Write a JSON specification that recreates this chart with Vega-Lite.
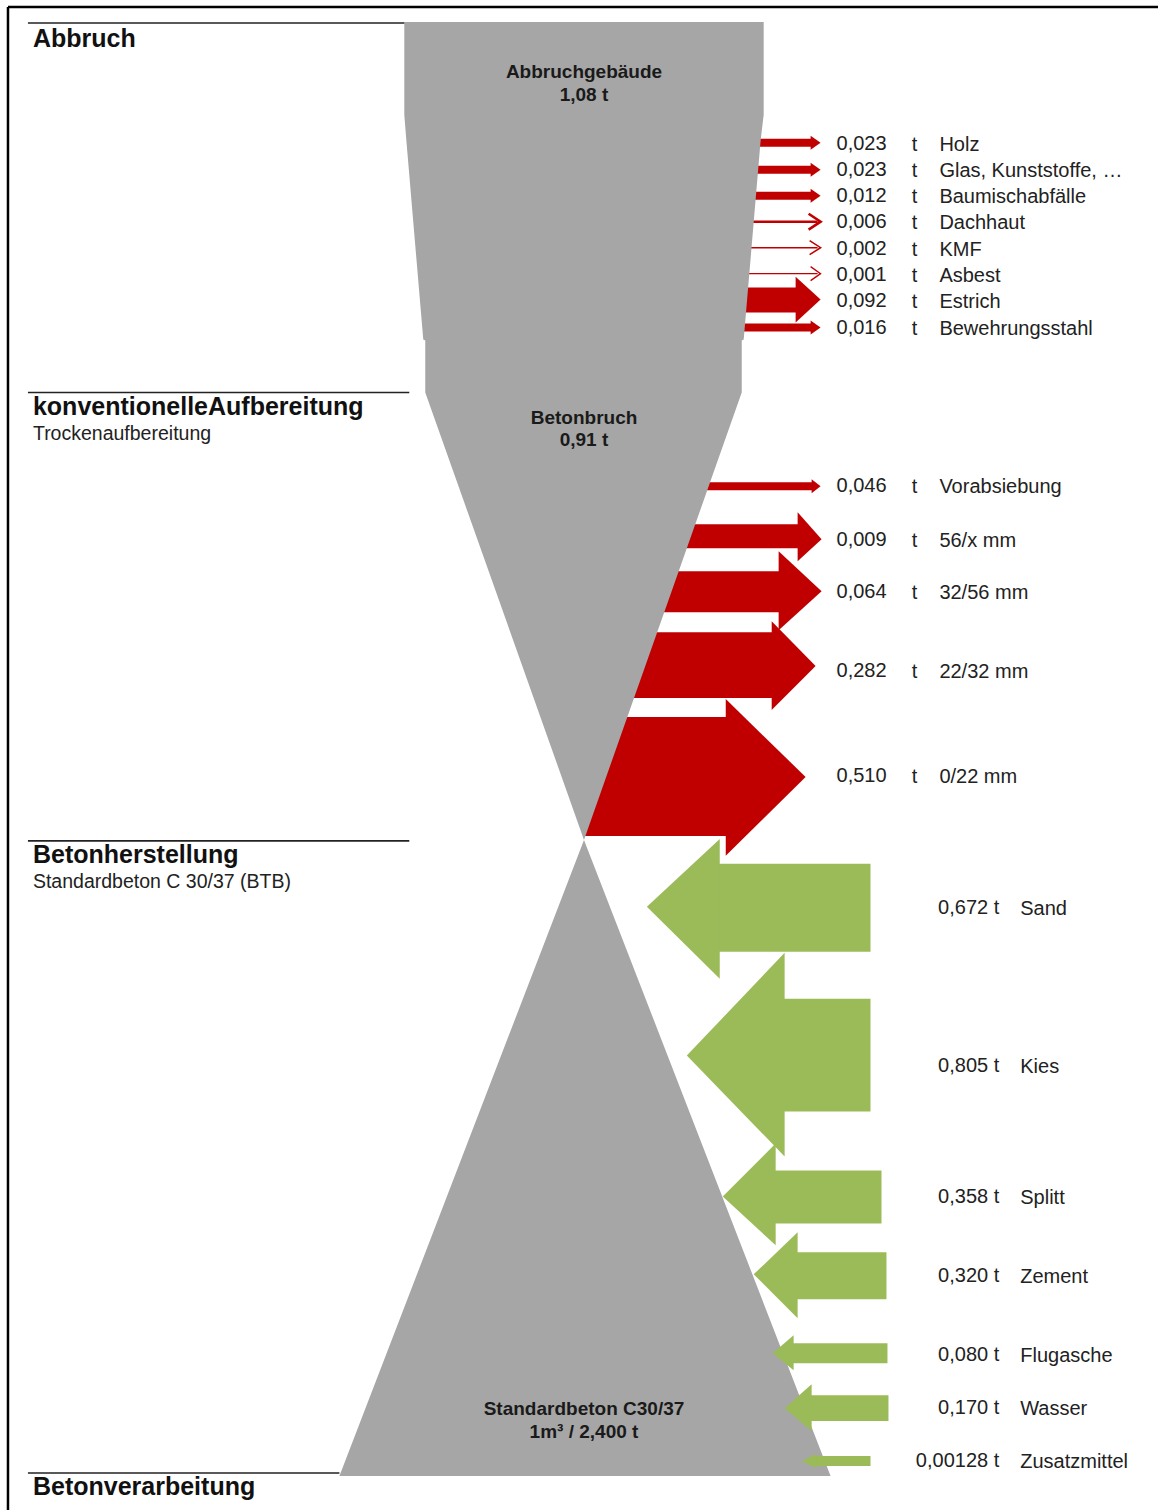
{
  "$schema": "https://vega.github.io/schema/vega-lite/v6.json",
  "width": 1160,
  "height": 1512,
  "autosize": {"type": "fit", "contains": "padding"},
  "padding": 0,
  "background": "white",
  "config": {"view": {"stroke": null}, "text": {"font": "Liberation Sans"}},
  "datasets": {
    "frame": [
      {"x": 8, "x2": 1160, "y": 7, "y2": 7},
      {"x": 8, "x2": 8, "y": 7, "y2": 1512}
    ],
    "sectionLines": [
      {"x": 28, "x2": 405, "y": 23},
      {"x": 28, "x2": 410, "y": 393},
      {"x": 28, "x2": 410, "y": 842},
      {"x": 28, "x2": 340, "y": 1475}
    ],
    "redShafts": [
      {"id": "Holz", "x": 700, "x2": 813, "y": 139, "y2": 147},
      {"id": "Glas", "x": 700, "x2": 813, "y": 166, "y2": 174},
      {"id": "Baumischabfälle", "x": 700, "x2": 813, "y": 192, "y2": 200},
      {"id": "Estrich", "x": 700, "x2": 798, "y": 288, "y2": 313},
      {"id": "Bewehrungsstahl", "x": 700, "x2": 813, "y": 324, "y2": 332},
      {"id": "Vorabsiebung", "x": 650, "x2": 814, "y": 483, "y2": 491},
      {"id": "56/x", "x": 600, "x2": 800, "y": 525, "y2": 549},
      {"id": "32/56", "x": 600, "x2": 781, "y": 572, "y2": 613},
      {"id": "22/32", "x": 590, "x2": 774, "y": 633, "y2": 699},
      {"id": "0/22", "x": 586, "x2": 728, "y": 718, "y2": 837}
    ],
    "redHeads": [
      {"id": "Holz", "x": 812, "y": 136, "y2": 150},
      {"id": "Holz", "x": 822, "y": 143, "y2": 143},
      {"id": "Glas", "x": 812, "y": 163, "y2": 177},
      {"id": "Glas", "x": 822, "y": 170, "y2": 170},
      {"id": "Baumischabfälle", "x": 812, "y": 189, "y2": 203},
      {"id": "Baumischabfälle", "x": 822, "y": 196, "y2": 196},
      {"id": "Estrich", "x": 797, "y": 277, "y2": 323},
      {"id": "Estrich", "x": 822, "y": 300, "y2": 300},
      {"id": "Bewehrungsstahl", "x": 812, "y": 321, "y2": 335},
      {"id": "Bewehrungsstahl", "x": 822, "y": 328, "y2": 328},
      {"id": "Vorabsiebung", "x": 813, "y": 480, "y2": 494},
      {"id": "Vorabsiebung", "x": 822, "y": 487, "y2": 487},
      {"id": "56/x", "x": 799, "y": 513, "y2": 562},
      {"id": "56/x", "x": 823, "y": 540, "y2": 540},
      {"id": "32/56", "x": 780, "y": 552, "y2": 631},
      {"id": "32/56", "x": 823, "y": 592, "y2": 592},
      {"id": "22/32", "x": 773, "y": 622, "y2": 711},
      {"id": "22/32", "x": 817, "y": 667, "y2": 667},
      {"id": "0/22", "x": 727, "y": 700, "y2": 857},
      {"id": "0/22", "x": 807, "y": 778, "y2": 778}
    ],
    "thinLines": [
      {"id": "Dachhaut", "t": 0.006, "x": 700, "x2": 819, "y": 222},
      {"id": "KMF", "t": 0.002, "x": 700, "x2": 819, "y": 248},
      {"id": "Asbest", "t": 0.001, "x": 700, "x2": 819, "y": 274}
    ],
    "chevrons": [
      {"id": "Dachhaut", "t": 0.006, "s": 1, "x": 810, "y": 214},
      {"id": "Dachhaut", "t": 0.006, "s": 2, "x": 822, "y": 222},
      {"id": "Dachhaut", "t": 0.006, "s": 3, "x": 810, "y": 230},
      {"id": "KMF", "t": 0.002, "s": 1, "x": 811, "y": 241},
      {"id": "KMF", "t": 0.002, "s": 2, "x": 822, "y": 248},
      {"id": "KMF", "t": 0.002, "s": 3, "x": 811, "y": 255},
      {"id": "Asbest", "t": 0.001, "s": 1, "x": 812, "y": 267},
      {"id": "Asbest", "t": 0.001, "s": 2, "x": 822, "y": 274},
      {"id": "Asbest", "t": 0.001, "s": 3, "x": 812, "y": 281}
    ],
    "funnel": [
      {"y": 22, "x": 405, "x2": 765},
      {"y": 115, "x": 405, "x2": 765},
      {"y": 140, "x": 407, "x2": 762},
      {"y": 340, "x": 424, "x2": 745},
      {"y": 341, "x": 426, "x2": 743},
      {"y": 393, "x": 426, "x2": 743},
      {"y": 841, "x": 585, "x2": 585},
      {"y": 1478, "x": 340, "x2": 832}
    ],
    "greenShafts": [
      {"id": "Sand", "x": 715, "x2": 872, "y": 865, "y2": 953},
      {"id": "Kies", "x": 780, "x2": 872, "y": 1000, "y2": 1113},
      {"id": "Splitt", "x": 770, "x2": 883, "y": 1172, "y2": 1225},
      {"id": "Zement", "x": 795, "x2": 888, "y": 1254, "y2": 1301},
      {"id": "Flugasche", "x": 790, "x2": 889, "y": 1345, "y2": 1365},
      {"id": "Wasser", "x": 808, "x2": 890, "y": 1397, "y2": 1423},
      {"id": "Zusatzmittel", "x": 812, "x2": 872, "y": 1458, "y2": 1468}
    ],
    "greenHeads": [
      {"id": "Sand", "x": 648, "y": 908, "y2": 908},
      {"id": "Sand", "x": 721, "y": 840, "y2": 980},
      {"id": "Kies", "x": 688, "y": 1057, "y2": 1057},
      {"id": "Kies", "x": 786, "y": 954, "y2": 1158},
      {"id": "Splitt", "x": 724, "y": 1198, "y2": 1198},
      {"id": "Splitt", "x": 777, "y": 1145, "y2": 1247},
      {"id": "Zement", "x": 755, "y": 1276, "y2": 1276},
      {"id": "Zement", "x": 799, "y": 1234, "y2": 1320},
      {"id": "Flugasche", "x": 774, "y": 1355, "y2": 1355},
      {"id": "Flugasche", "x": 795, "y": 1337, "y2": 1372},
      {"id": "Wasser", "x": 786, "y": 1410, "y2": 1410},
      {"id": "Wasser", "x": 813, "y": 1386, "y2": 1433},
      {"id": "Zusatzmittel", "x": 803, "y": 1463, "y2": 1463},
      {"id": "Zusatzmittel", "x": 818, "y": 1456, "y2": 1470}
    ],
    "redLabels": [
      {"v": "0,023", "name": "Holz", "y": 143},
      {"v": "0,023", "name": "Glas, Kunststoffe, …", "y": 169},
      {"v": "0,012", "name": "Baumischabfälle", "y": 195},
      {"v": "0,006", "name": "Dachhaut", "y": 221},
      {"v": "0,002", "name": "KMF", "y": 248},
      {"v": "0,001", "name": "Asbest", "y": 274},
      {"v": "0,092", "name": "Estrich", "y": 300},
      {"v": "0,016", "name": "Bewehrungsstahl", "y": 327},
      {"v": "0,046", "name": "Vorabsiebung", "y": 486},
      {"v": "0,009", "name": "56/x mm", "y": 540},
      {"v": "0,064", "name": "32/56 mm", "y": 592},
      {"v": "0,282", "name": "22/32 mm", "y": 671},
      {"v": "0,510", "name": "0/22 mm", "y": 776}
    ],
    "greenLabels": [
      {"v": "0,672 t", "name": "Sand", "y": 908},
      {"v": "0,805 t", "name": "Kies", "y": 1066},
      {"v": "0,358 t", "name": "Splitt", "y": 1198},
      {"v": "0,320 t", "name": "Zement", "y": 1277},
      {"v": "0,080 t", "name": "Flugasche", "y": 1356},
      {"v": "0,170 t", "name": "Wasser", "y": 1409},
      {"v": "0,00128 t", "name": "Zusatzmittel", "y": 1462}
    ],
    "headers": [
      {"text": "Abbruch", "y": 47},
      {"text": "konventionelleAufbereitung", "y": 416},
      {"text": "Betonherstellung", "y": 864},
      {"text": "Betonverarbeitung", "y": 1497}
    ],
    "subheaders": [
      {"text": "Trockenaufbereitung", "y": 441},
      {"text": "Standardbeton C 30/37 (BTB)", "y": 889}
    ],
    "nodeLabels": [
      {"text": "Abbruchgebäude", "y": 78},
      {"text": "1,08 t", "y": 101},
      {"text": "Betonbruch", "y": 425},
      {"text": "0,91 t", "y": 447},
      {"text": "Standardbeton C30/37", "y": 1417},
      {"text": "1m³ / 2,400 t", "y": 1440}
    ]
  },
  "encoding": {
    "y": {"field": "y", "type": "quantitative", "scale": {"domain": [1512, 0], "nice": false, "zero": false}, "axis": null}
  },
  "layer": [
    {
      "data": {"name": "redShafts"},
      "mark": {"type": "rect", "color": "#c00000"},
      "encoding": {
        "x": {"field": "x", "type": "quantitative", "scale": {"domain": [0, 1160], "nice": false, "zero": false}, "axis": null},
        "x2": {"field": "x2"}, "y2": {"field": "y2"}
      }
    },
    {
      "data": {"name": "redHeads"},
      "mark": {"type": "area", "color": "#c00000", "orient": "vertical"},
      "encoding": {
        "x": {"field": "x", "type": "quantitative"},
        "y2": {"field": "y2"}, "detail": {"field": "id"}
      }
    },
    {
      "data": {"name": "thinLines"},
      "mark": {"type": "rule", "color": "#c00000"},
      "encoding": {
        "x": {"field": "x", "type": "quantitative"},
        "x2": {"field": "x2"},
        "strokeWidth": {"field": "t", "type": "quantitative", "scale": {"domain": [0.001, 0.006], "range": [1.3, 2.6]}, "legend": null}
      }
    },
    {
      "data": {"name": "chevrons"},
      "mark": {"type": "line", "color": "#c00000", "strokeJoin": "miter"},
      "encoding": {
        "x": {"field": "x", "type": "quantitative"},
        "detail": {"field": "id"},
        "order": {"field": "s", "type": "quantitative"},
        "strokeWidth": {"field": "t", "type": "quantitative", "scale": {"domain": [0.001, 0.006], "range": [1.3, 2.6]}, "legend": null}
      }
    },
    {
      "data": {"name": "funnel"},
      "mark": {"type": "area", "orient": "horizontal", "color": "#a6a6a6"},
      "encoding": {
        "x": {"field": "x", "type": "quantitative"},
        "x2": {"field": "x2"}
      }
    },
    {
      "data": {"name": "greenShafts"},
      "mark": {"type": "rect", "color": "#9bbb59"},
      "encoding": {
        "x": {"field": "x", "type": "quantitative"},
        "x2": {"field": "x2"}, "y2": {"field": "y2"}
      }
    },
    {
      "data": {"name": "greenHeads"},
      "mark": {"type": "area", "color": "#9bbb59", "orient": "vertical"},
      "encoding": {
        "x": {"field": "x", "type": "quantitative"},
        "y2": {"field": "y2"}, "detail": {"field": "id"}
      }
    },
    {
      "data": {"name": "sectionLines"},
      "mark": {"type": "rule", "color": "#222222", "strokeWidth": 1.6},
      "encoding": {
        "x": {"field": "x", "type": "quantitative"},
        "x2": {"field": "x2"}
      }
    },
    {
      "data": {"name": "frame"},
      "mark": {"type": "rule", "color": "#000000", "strokeWidth": 2.5},
      "encoding": {
        "x": {"field": "x", "type": "quantitative"},
        "x2": {"field": "x2"}, "y2": {"field": "y2"}
      }
    },
    {
      "data": {"name": "headers"},
      "mark": {"type": "text", "align": "left", "baseline": "alphabetic", "fontSize": 25, "fontWeight": "bold", "color": "#111111"},
      "encoding": {"x": {"datum": 33, "type": "quantitative"}, "text": {"field": "text"}}
    },
    {
      "data": {"name": "subheaders"},
      "mark": {"type": "text", "align": "left", "baseline": "alphabetic", "fontSize": 19.5, "color": "#222222"},
      "encoding": {"x": {"datum": 33, "type": "quantitative"}, "text": {"field": "text"}}
    },
    {
      "data": {"name": "nodeLabels"},
      "mark": {"type": "text", "align": "center", "baseline": "alphabetic", "fontSize": 19, "fontWeight": "bold", "color": "#1a1a1a"},
      "encoding": {"x": {"datum": 585, "type": "quantitative"}, "text": {"field": "text"}}
    },
    {
      "data": {"name": "redLabels"},
      "mark": {"type": "text", "align": "left", "baseline": "alphabetic", "dy": 7, "fontSize": 20, "color": "#222222"},
      "encoding": {"x": {"datum": 838, "type": "quantitative"}, "text": {"field": "v"}}
    },
    {
      "data": {"name": "redLabels"},
      "mark": {"type": "text", "align": "center", "baseline": "alphabetic", "dy": 8, "fontSize": 20, "color": "#222222"},
      "encoding": {"x": {"datum": 916, "type": "quantitative"}, "text": {"value": "t"}}
    },
    {
      "data": {"name": "redLabels"},
      "mark": {"type": "text", "align": "left", "baseline": "alphabetic", "dy": 8, "fontSize": 20, "color": "#222222"},
      "encoding": {"x": {"datum": 941, "type": "quantitative"}, "text": {"field": "name"}}
    },
    {
      "data": {"name": "greenLabels"},
      "mark": {"type": "text", "align": "right", "baseline": "alphabetic", "dy": 7, "fontSize": 20, "color": "#222222"},
      "encoding": {"x": {"datum": 1001, "type": "quantitative"}, "text": {"field": "v"}}
    },
    {
      "data": {"name": "greenLabels"},
      "mark": {"type": "text", "align": "left", "baseline": "alphabetic", "dy": 8, "fontSize": 20, "color": "#222222"},
      "encoding": {"x": {"datum": 1022, "type": "quantitative"}, "text": {"field": "name"}}
    }
  ]
}
